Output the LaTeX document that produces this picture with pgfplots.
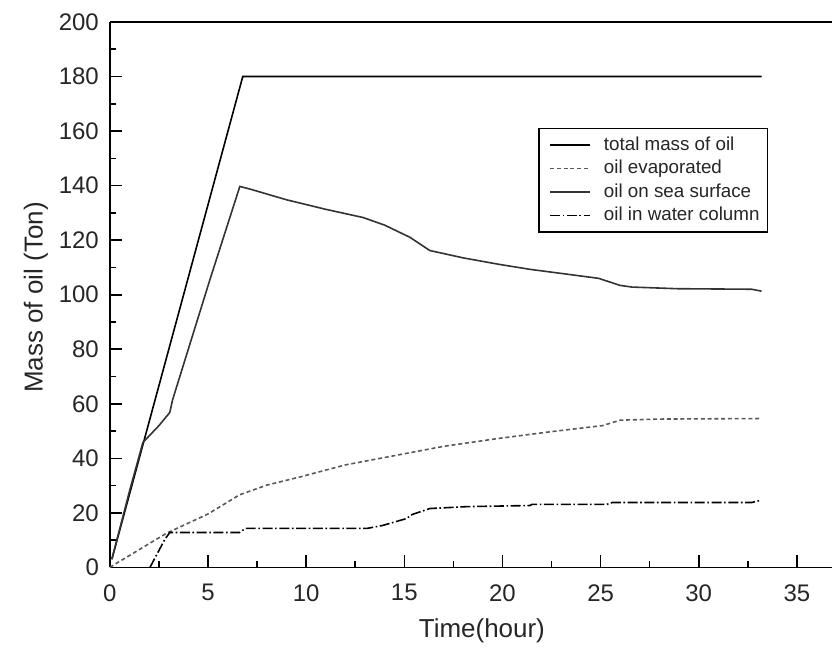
\documentclass[border=0pt]{standalone}
\usepackage{pgfplots}
\pgfplotsset{compat=1.18}
\usepackage{fontspec}
\setmainfont{Liberation Sans}

\begin{document}
\begin{tikzpicture}
\begin{axis}[
  scale only axis,
  width=361.5pt, height=273pt,
  xmin=0, xmax=36.8, ymin=0, ymax=200,
  axis x line=box, axis y line=left,
  axis line style={-, line width=0.8pt},
  xtick pos=bottom, ytick pos=left,
  tick align=inside,
  xtick={0,5,...,35}, ytick={0,20,...,200},
  minor x tick num=1, minor y tick num=1,
  major tick length=6pt, minor tick length=3pt,
  tick style={line width=0.8pt, black},
  /pgf/number format/assume math mode=true,
  tick label style={font=\fontsize{12}{14}\selectfont, text=black!85},
  xticklabel style={yshift=-5pt},
  yticklabel style={xshift=-2pt},
  xlabel={Time(hour)},
  ylabel={Mass of oil (Ton)},
  label style={font=\fontsize{13}{15}\selectfont, text=black!85},
  x label style={at={(ticklabel cs:0.515)}, anchor=north, yshift=-2pt},
  y label style={at={(axis description cs:-0.1024,0.495)}, anchor=center},
  legend style={at={(rel axis cs:0.593,0.806)}, anchor=north west,
    font=\fontsize{9.4}{11.5}\selectfont, draw=black, line width=0.8pt,
    inner sep=2pt, row sep=-0.5pt, text=black!85},
  legend cell align=left,
  legend image code/.code={
    \draw[#1] (3.5pt,0pt) -- (23.5pt,0pt);
    \path[draw=none] (0pt,0pt) (28.5pt,0pt);},
  every axis plot/.append style={line width=0.8pt},
]
% total mass of oil
\addplot[black] coordinates {
  (0.1,3) (6.77,180) (33.2,180)
};
\addlegendentry{total mass of oil}
% oil evaporated
\addplot[black!65, dash pattern=on 2pt off 1.4pt] coordinates {
  (0,0) (0.4,1.8) (2.9,12.6) (5.0,19.6) (6.6,26.6) (8.0,30.2) (9.7,33.2)
  (12.0,37.6) (14.8,41.4) (17.0,44.4) (19.8,47.3) (22.5,49.8) (25.1,52.0)
  (26.0,54.0) (28.0,54.4) (33.2,54.6)
};
\addlegendentry{oil evaporated}
% oil on sea surface
\addplot[black!80] coordinates {
  (0.1,3) (1.0,28) (1.68,45.8) (2.5,52) (3.05,56.8) (3.2,61.6) (5.1,105.6)
  (6.62,139.7) (7.2,138.6) (9.0,134.8) (11.0,131.3) (12.9,128.3) (14.0,125.5)
  (15.3,121.0) (16.3,116.2) (18.0,113.5) (19.85,111.1) (21.4,109.3) (23.0,107.8)
  (24.9,106.0) (26.0,103.4) (26.6,102.8) (28.9,102.2) (32.7,102.0) (33.2,101.3)
};
\addlegendentry{oil on sea surface}
% oil in water column
\addplot[black, dash pattern=on 5pt off 1.3pt on 0.8pt off 1.3pt] coordinates {
  (2.04,0) (2.8,10.3) (3.05,12.8) (6.6,12.8) (6.9,14.3) (13.1,14.3) (13.9,15.4)
  (15.1,17.9) (15.4,19.4) (16.3,21.6) (18.2,22.3) (21.4,22.7) (21.5,23.1)
  (25.3,23.1) (25.6,23.8) (32.7,23.8) (33.2,24.7)
};
\addlegendentry{oil in water column}
\coordinate (sw) at (rel axis cs:0,0);
\coordinate (ne) at (rel axis cs:1,1);
\end{axis}
\path ([shift={(-55pt,-41pt)}]sw) rectangle ([shift={(0pt,11pt)}]ne);
\end{tikzpicture}
\end{document}
